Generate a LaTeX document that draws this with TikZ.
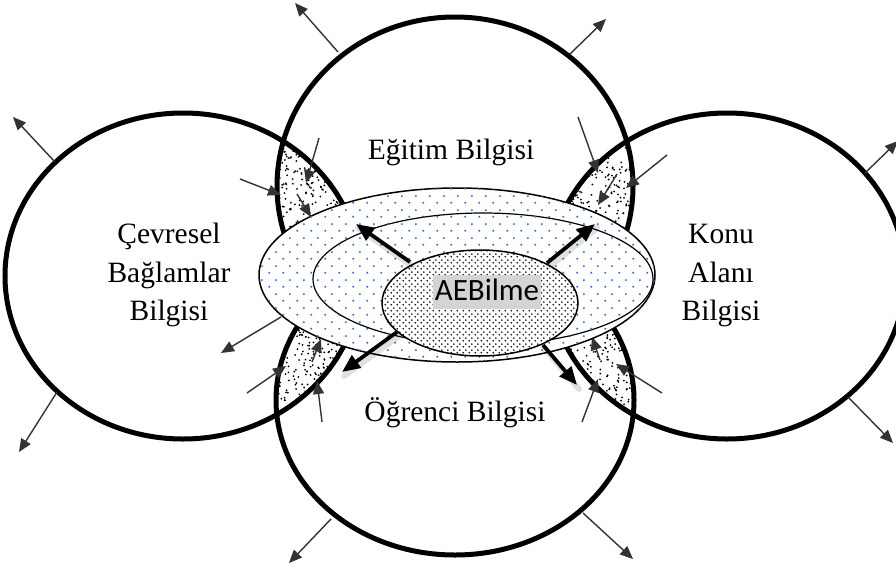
\documentclass[tikz,border=0pt]{standalone}
\usepackage{fontspec}
\setmainfont{Liberation Serif}
\newfontfamily\labelsans{Carlito}
\usetikzlibrary{arrows.meta,patterns,calc,shapes.geometric}

% sparse blue dot fill for the two large ellipses
\pgfdeclarepatternformonly{bluedots}{\pgfqpoint{0pt}{0pt}}{\pgfqpoint{14pt}{14pt}}{\pgfqpoint{14pt}{14pt}}{%
  \pgfpathcircle{\pgfqpoint{3.5pt}{3.5pt}}{1.2pt}%
  \pgfpathcircle{\pgfqpoint{10.5pt}{10.5pt}}{1.2pt}%
  \pgfusepath{fill}}
% dense black dot fill for the core ellipse
\pgfdeclarepatternformonly{coredots}{\pgfqpoint{0pt}{0pt}}{\pgfqpoint{6pt}{6pt}}{\pgfqpoint{6pt}{6pt}}{%
  \pgfpathcircle{\pgfqpoint{1.5pt}{1.5pt}}{1.0pt}%
  \pgfpathcircle{\pgfqpoint{4.5pt}{4.5pt}}{1.0pt}%
  \pgfusepath{fill}}

\definecolor{dotblue}{HTML}{3F74C4}
\definecolor{thinarrow}{HTML}{333333}
\definecolor{marker}{HTML}{D4D4D4}

\tikzset{
  rimline/.style={line width=5pt, draw=black},
  outerring/.style={line width=1.5pt, draw=black, fill=white, postaction={pattern=bluedots, pattern color=dotblue}},
  corering/.style={line width=1.5pt, draw=black, fill=white, postaction={pattern=coredots, pattern color=black}},
  outarrow/.style={line width=1.4pt, draw=thinarrow, -{Triangle[length=13pt,width=11pt]}},
  bigarrow/.style={line width=3.8pt, draw=black, -{Triangle[length=18pt,width=15pt]}},
  arrowshade/.style={line width=6pt, draw=black, opacity=0.12, line cap=round},
  domlabel/.style={font=\fontsize{29.5}{38.5}\selectfont, align=center, inner sep=0pt},
}

\newcommand{\stipple}[4]{% x0 y0 width height
  \foreach \k in {1,...,300}{\fill ({#1+rnd*#3},{#2+rnd*#4}) circle [radius=1.0];}}

\begin{document}
\begin{tikzpicture}[x=1pt, y=-1pt]
\useasboundingbox (0,0) rectangle (896,570);
\pgfmathsetseed{11}

% the four knowledge domains
\coordinate (cL) at (183,276);
\coordinate (cT) at (455,186);
\coordinate (cR) at (727,276);
\coordinate (cB) at (455,400);
\def\sideL{(cL) ellipse [x radius=178, y radius=163]}
\def\sideR{(cR) ellipse [x radius=178, y radius=163]}
\def\topT{(cT) ellipse [x radius=178, y radius=169]}
\def\botB{(cB) ellipse [x radius=179, y radius=155]}

% stippled overlaps between neighbouring domains
\begin{scope}
  \clip \sideL; \clip \topT;
  \stipple{265}{125}{85}{115}
\end{scope}
\begin{scope}
  \clip \sideR; \clip \topT;
  \stipple{550}{125}{90}{115}
\end{scope}
\begin{scope}
  \clip \sideL; \clip \botB;
  \stipple{265}{315}{85}{115}
\end{scope}
\begin{scope}
  \clip \sideR; \clip \botB;
  \stipple{550}{315}{90}{115}
\end{scope}

\draw[rimline] \sideL;
\draw[rimline] \sideR;
\draw[rimline] \topT;
\draw[rimline] \botB;

% outward arrows on the domain rims
\coordinate (a1s) at (55,162);  \coordinate (a1e) at (13,117);
\coordinate (a2s) at (57,392);  \coordinate (a2e) at (19,452);
\coordinate (a3s) at (338,52);  \coordinate (a3e) at (295,3);
\coordinate (a4s) at (570,54);  \coordinate (a4e) at (606,19);
\coordinate (a5s) at (865,173); \coordinate (a5e) at (898,141);
\coordinate (a6s) at (848,397); \coordinate (a6e) at (893,443);
\coordinate (a7s) at (331,519); \coordinate (a7e) at (289,563);
\coordinate (a8s) at (583,513); \coordinate (a8e) at (633,559);
\coordinate (a9s) at (281,317); \coordinate (a9e) at (221,353);
\foreach \n in {1,...,9}{\draw[outarrow] (a\n s) -- (a\n e);}

% arrows pointing into the overlaps
\coordinate (b1s) at (319,138); \coordinate (b1e) at (306,183);
\coordinate (b2s) at (240,179); \coordinate (b2e) at (281,195);
\coordinate (b3s) at (297,194); \coordinate (b3e) at (311,217);
\coordinate (b4s) at (578,117); \coordinate (b4e) at (598,173);
\coordinate (b5s) at (667,155); \coordinate (b5e) at (626,188);
\coordinate (b6s) at (617,174); \coordinate (b6e) at (598,205);
\coordinate (b7s) at (247,393); \coordinate (b7e) at (286,366);
\coordinate (b8s) at (322,422); \coordinate (b8e) at (317,381);
\coordinate (b9s) at (312,362); \coordinate (b9e) at (321,339);
\coordinate (b10s) at (662,393); \coordinate (b10e) at (616,364);
\coordinate (b11s) at (582,422); \coordinate (b11e) at (598,379);
\coordinate (b12s) at (600,360); \coordinate (b12e) at (592,337);
\foreach \n in {1,...,12}{\draw[outarrow] (b\n s) -- (b\n e);}

% nested central ellipses
\node[outerring, ellipse, minimum width=396pt, minimum height=174pt, inner sep=0pt] (ring) at (457,275) {};
\node[outerring, ellipse, minimum width=340pt, minimum height=132pt, inner sep=0pt, line width=1.2pt] (inner) at (483,279) {};
\node[corering, ellipse, minimum width=196pt, minimum height=106pt, inner sep=0pt] (core) at (480,303) {};
\node[fill=marker, inner xsep=2pt, inner ysep=0pt, text height=25pt, text depth=9pt,
      font=\labelsans\fontsize{31}{34}\selectfont] (ae) at (487,292) {AEBilme};

% heavy arrows leaving the core
\coordinate (c1s) at (410,262); \coordinate (c1e) at (356,224);
\coordinate (c2s) at (547,263); \coordinate (c2e) at (595,224);
\coordinate (c3s) at (397,332); \coordinate (c3e) at (342,372);
\coordinate (c4s) at (543,345); \coordinate (c4e) at (577,385);
\foreach \n in {1,...,4}{
  \draw[arrowshade] ($(c\n s)+(2,4)$) -- ($(c\n e)+(2,4)$);
  \draw[bigarrow] (c\n s) -- (c\n e);}

% domain labels
\node[domlabel] (lt) at (451,152) {Eğitim Bilgisi};
\node[domlabel] (ll) at (169,275) {Çevresel\\Bağlamlar\\Bilgisi};
\node[domlabel] (lr) at (721,276) {Konu\\Alanı\\Bilgisi};
\node[domlabel] (lb) at (455,413) {Öğrenci Bilgisi};
\end{tikzpicture}
\end{document}
